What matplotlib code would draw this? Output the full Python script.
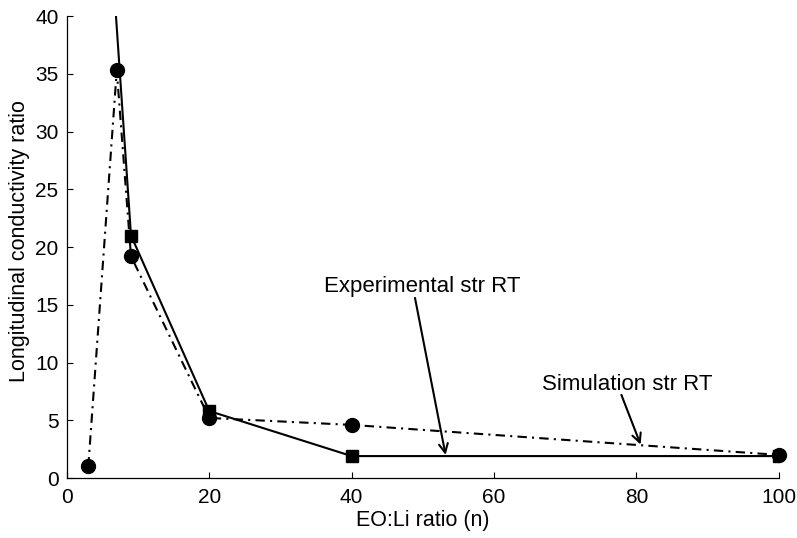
import matplotlib
matplotlib.use("Agg")
import matplotlib.pyplot as plt

# Data
exp_x = [6, 9, 20, 40, 100]
exp_y = [48.0, 21.0, 5.8, 1.9, 1.9]
sim_x = [3, 7, 9, 20, 40, 100]
sim_y = [1.0, 35.3, 19.2, 5.2, 4.6, 2.0]
x_ticks = [0, 20, 40, 60, 80, 100]
y_ticks = [0, 5, 10, 15, 20, 25, 30, 35, 40]

plt.rcParams['font.family'] = ['Liberation Sans', 'DejaVu Sans']
plt.rcParams['font.size'] = 16

fig = plt.figure(figsize=(7.97, 5.38), dpi=100)
ax = fig.add_axes([0.084, 0.1115, 0.893, 0.8585])

ax.plot(exp_x, exp_y, color='black', lw=1.5, linestyle='-',
        marker='s', markersize=8, zorder=3)
ax.plot(sim_x, sim_y, color='black', lw=1.5, linestyle=(0, (4.5, 2.5, 1, 2.5)),
        marker='o', markersize=10, zorder=4, clip_on=False)

ax.set_xlim(0, 100)
ax.set_ylim(0, 40)
ax.set_xticks(x_ticks)
ax.set_yticks(y_ticks)
ax.tick_params(direction='in', length=4, width=0.8, labelsize=15)
ax.tick_params(axis='x', pad=7)
ax.tick_params(axis='y', pad=6)
ax.spines['top'].set_visible(False)
ax.spines['right'].set_visible(False)
for s in ['left', 'bottom']:
    ax.spines[s].set_linewidth(0.9)

ax.set_xlabel('EO:Li ratio (n)', fontsize=15.5, labelpad=2)
ax.set_ylabel('Longitudinal conductivity ratio', fontsize=15.5,
              family=['Liberation Sans Narrow', 'Liberation Sans', 'DejaVu Sans'])
ax.yaxis.set_label_coords(-0.052, 0.514)

arrow = dict(arrowstyle='->', color='black', lw=1.5, shrinkA=0, shrinkB=0,
             mutation_scale=16)
ax.text(49.9, 16.1, 'Experimental str RT', ha='center', va='baseline', fontsize=16)
ax.annotate('', xy=(53.2, 2.0), xytext=(48.9, 15.6), arrowprops=arrow)
ax.text(78.7, 7.6, 'Simulation str RT', ha='center', va='baseline', fontsize=16)
ax.annotate('', xy=(80.6, 2.9), xytext=(77.9, 7.2), arrowprops=arrow)

fig.savefig('out.png', dpi=100)
